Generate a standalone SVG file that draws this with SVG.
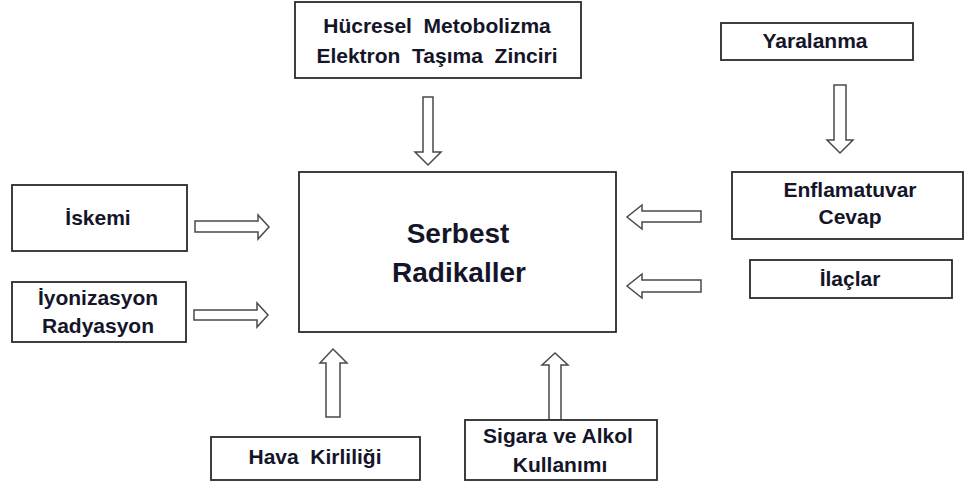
<svg xmlns="http://www.w3.org/2000/svg" width="965" height="486" viewBox="0 0 965 486">
<style>
.box{fill:#fff;stroke:#2b2b2b;stroke-width:1.8}
.t{font-family:"Liberation Sans",Arial,sans-serif;font-weight:bold;font-size:21px;fill:#15152a;text-anchor:middle;white-space:pre}
.big{font-size:28px}
.arr{fill:#fff;stroke:#4a4a4a;stroke-width:1.5;stroke-linejoin:miter}
</style>
<rect width="965" height="486" fill="#fff"/>
<g id="connectors">
<polygon class="arr" points="423,97 433,97 433,152 441,152 428,165 415,152 423,152"/>
<polygon class="arr" points="834,85 846,85 846,140 853,140 840,153 827,140 834,140"/>
<polygon class="arr" points="195,221 258,221 258,215 269,227 258,239 258,232 195,232"/>
<polygon class="arr" points="194,310 257,310 257,303 268,315 257,327 257,320 194,320"/>
<polygon class="arr" points="701,211 642,211 642,205 627,217 642,229 642,222 701,222"/>
<polygon class="arr" points="701,280 642,280 642,274 627,286 642,298 642,292 701,292"/>
<polygon class="arr" points="326,417 326,363 320,363 333,349 347,363 340,363 340,417"/>
<polygon class="arr" points="549,420 549,365 542,365 555,353 568,365 561,365 561,420"/>
</g>
<g id="node-center">
<rect class="box" x="299" y="172" width="317" height="160"/>
<text class="t big" x="458" y="243">Serbest</text>
<text class="t big" x="459" y="282">Radikaller</text>
</g>
<g id="node-hucresel">
<rect class="box" x="295" y="2" width="286" height="76"/>
<text class="t" x="437" y="33">Hücresel  Metobolizma</text>
<text class="t" x="437" y="63">Elektron  Taşıma  Zinciri</text>
</g>
<g id="node-yaralanma">
<rect class="box" x="721" y="23" width="192" height="37"/>
<text class="t" x="815" y="48">Yaralanma</text>
</g>
<g id="node-enflamatuvar">
<rect class="box" x="732" y="172" width="231" height="67"/>
<text class="t" x="850" y="197">Enflamatuvar</text>
<text class="t" x="850" y="224">Cevap</text>
</g>
<g id="node-ilaclar">
<rect class="box" x="750" y="260" width="202" height="38"/>
<text class="t" x="850" y="286">İlaçlar</text>
</g>
<g id="node-iskemi">
<rect class="box" x="12" y="185" width="175" height="66"/>
<text class="t" x="98" y="225">İskemi</text>
</g>
<g id="node-iyonizasyon">
<rect class="box" x="12" y="282" width="174" height="60"/>
<text class="t" x="98" y="305">İyonizasyon</text>
<text class="t" x="98" y="333">Radyasyon</text>
</g>
<g id="node-hava">
<rect class="box" x="211" y="437" width="209" height="43"/>
<text class="t" x="315" y="464">Hava  Kirliliği</text>
</g>
<g id="node-sigara">
<rect class="box" x="465" y="420" width="192" height="60"/>
<text class="t" x="558" y="443">Sigara ve Alkol</text>
<text class="t" x="560" y="472">Kullanımı</text>
</g>
</svg>
